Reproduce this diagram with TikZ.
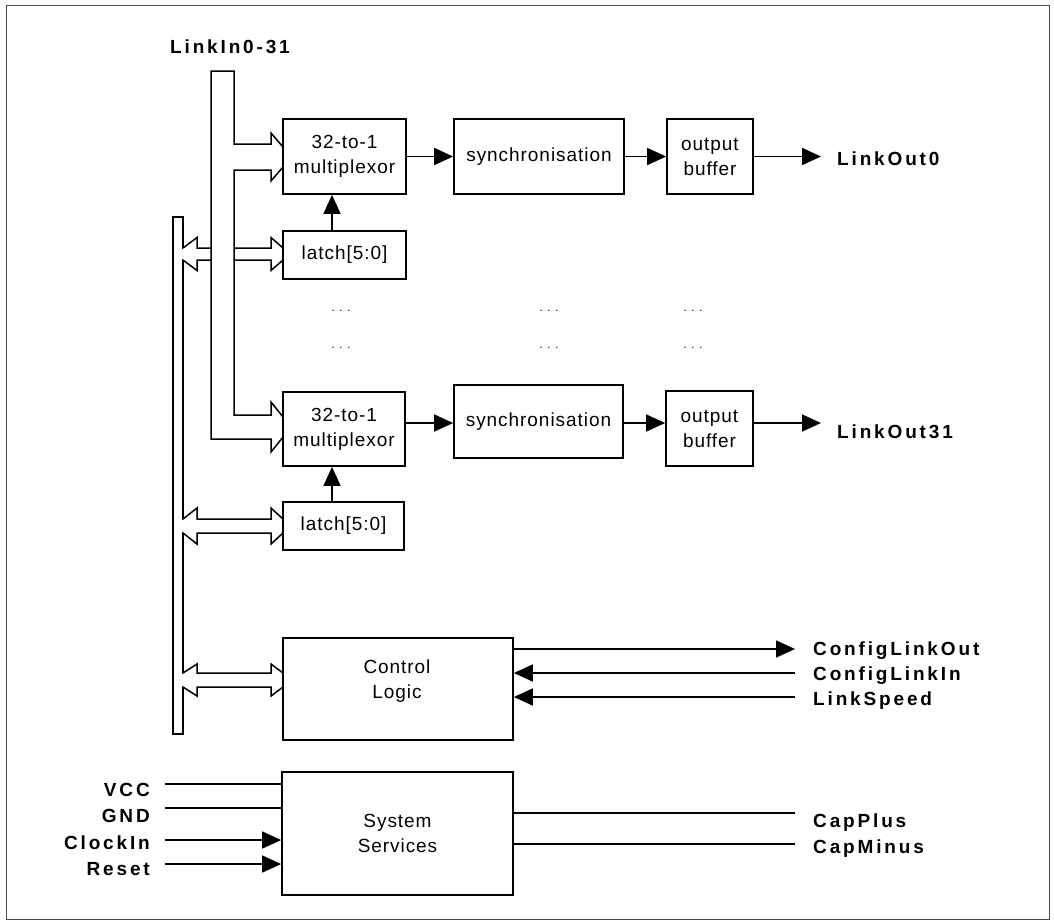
\documentclass[tikz,border=0pt]{standalone}
\usepackage{fontspec}
\setmainfont{Liberation Sans}[LetterSpace=5]
\newfontfamily\blab{Liberation Sans}[LetterSpace=15]
\usetikzlibrary{arrows.meta,calc}
\newcommand\hollowbi[4]{% center y, shaft half, head half, front half
  \draw[bus, fill=white] (183,{#1-#4}) -- (197,{#1-#3}) -- (197,{#1-#2}) -- (271,{#1-#2}) -- (271,{#1-#3}) -- (283,{#1-#4})
    -- (283,{#1+#4}) -- (271,{#1+#3}) -- (271,{#1+#2}) -- (197,{#1+#2}) -- (197,{#1+#3}) -- (183,{#1+#4});
  \draw[bus, white, line width=2pt] (283,{#1-#4+1}) -- (283,{#1+#4-1});
  \draw[bus, white, line width=2pt] (183,{#1-#4+1}) -- (183,{#1+#4-1});
}
\begin{document}
\begin{tikzpicture}[x=1pt,y=-1pt,
 box/.style={draw, line width=1.7pt, align=center, inner sep=0pt, font=\fontsize{19}{25}\selectfont},
 txt/.style={align=center, inner sep=0pt, font=\fontsize{19}{25}\selectfont},
 lab/.style={inner sep=0pt, font=\blab\bfseries\fontsize{19}{22}\selectfont},
 wire/.style={line width=1.6pt},
 arr/.style={wire, -{Triangle[length=19pt,width=17pt]}},
 bus/.style={line width=1.5pt, line join=miter},
 dots/.style={inner sep=0pt, font=\fontsize{11}{11}\selectfont}]
\useasboundingbox (0,0) rectangle (1054,922);
\draw[line width=1pt, black!70] (6,5) rectangle (1049,919);

% data bus
\draw[bus, fill=white] (173,217) rectangle (183,734);
% double hollow arrows
\hollowbi{254}{6}{16.5}{6}
\hollowbi{526}{7}{18}{7}
\hollowbi{680}{7}{16}{7}

% LinkIn bus
\fill[white] (211.5,71.5) rectangle (233.5,438.5);
\draw[bus] (283,437) -- (271,452) -- (271,439) -- (211,439) -- (211,71) -- (234,71) -- (234,144) -- (271,144) -- (271,133) -- (283,147);
\draw[bus] (283,167) -- (271,181) -- (271,170) -- (234,170) -- (234,415) -- (271,415) -- (271,402) -- (283,417);
\fill[white] (282.4,147.5) rectangle (283.6,166.5);
\fill[white] (282.4,417.5) rectangle (283.6,436.5);

% boxes
\node[box, minimum width=123, minimum height=75] (mux1) at (344.5,156.5) {32-to-1\\multiplexor};
\node[box, minimum width=170, minimum height=75] (sync1) at (539,156.5) {synchronisation};
\node[box, minimum width=86, minimum height=75] (buf1) at (710,156.5) {output\\buffer};
\node[box, minimum width=123, minimum height=48] (latch1) at (344.5,255) {latch[5:0]};

\node[box, minimum width=122, minimum height=74] (mux2) at (344,429) {32-to-1\\multiplexor};
\node[box, minimum width=169, minimum height=73] (sync2) at (538.5,421.5) {synchronisation};
\node[box, minimum width=87, minimum height=75] (buf2) at (709.5,428.5) {output\\buffer};
\node[box, minimum width=121, minimum height=48] (latch2) at (343.5,526) {latch[5:0]};

\node[box, minimum width=230, minimum height=102] (ctrl) at (398,689) {};
\node[txt] (ctrltxt) at (397,681) {Control\\Logic};
\node[box, minimum width=231, minimum height=123] (sys) at (397.5,833.5) {System\\Services};

% dots
\node[dots] (d1) at (341,311) {. . .};
\node[dots] (d2) at (549,311) {. . .};
\node[dots] (d3) at (693,311) {. . .};
\node[dots] (d4) at (341,348) {. . .};
\node[dots] (d5) at (549,348) {. . .};
\node[dots] (d6) at (693,348) {. . .};

% labels
\node[lab, anchor=base west] (linkin) at (170,53) {LinkIn0-31};
\node[lab, anchor=base west] (lo0) at (837,165) {LinkOut0};
\node[lab, anchor=base west] (lo31) at (837,438) {LinkOut31};
\node[lab, anchor=base west] (clo) at (813,655) {ConfigLinkOut};
\node[lab, anchor=base west] (cli) at (813,680) {ConfigLinkIn};
\node[lab, anchor=base west] (ls) at (813,705) {LinkSpeed};
\node[lab, anchor=base west] (cp) at (813,827) {CapPlus};
\node[lab, anchor=base west] (cm) at (813,853) {CapMinus};
\node[lab, anchor=base east] (vcc) at (150,796) {VCC};
\node[lab, anchor=base east] (gnd) at (150,822) {GND};
\node[lab, anchor=base east] (clk) at (150,849) {ClockIn};
\node[lab, anchor=base east] (rst) at (150,875) {Reset};

% wire endpoints
\coordinate (lo0tip) at (821,156.5);
\coordinate (lo31tip) at (821,423);
\coordinate (row2) at (0,423);
\coordinate (cloE) at (795,649);
\coordinate (cliE) at (795,673);
\coordinate (lsE) at (795,697);
\coordinate (cpE) at (795,813);
\coordinate (cmE) at (795,844);
\coordinate (vccW) at (165,784);
\coordinate (gndW) at (165,808);
\coordinate (clkW) at (165,840);
\coordinate (rstW) at (165,864);

% row 1
\draw[arr] (mux1.east) -- (sync1.west);
\draw[arr] (sync1.east) -- (buf1.west);
\draw[arr] (buf1.east) -- (lo0tip);
\draw[arr] ([xshift=-12.5pt]latch1.north) -- ([xshift=-12.5pt]latch1.north |- mux1.south);
% row 2
\draw[arr] (mux2.east |- row2) -- (sync2.west |- row2);
\draw[arr] (sync2.east |- row2) -- (buf2.west |- row2);
\draw[arr] (buf2.east |- row2) -- (lo31tip);
\draw[arr] ([xshift=-11.5pt]latch2.north) -- ([xshift=-11.5pt]latch2.north |- mux2.south);
% control logic
\draw[arr] (cloE -| ctrl.east) -- (cloE);
\draw[arr] (cliE) -- (cliE -| ctrl.east);
\draw[arr] (lsE) -- (lsE -| ctrl.east);
% system services
\draw[wire] (cpE -| sys.east) -- (cpE);
\draw[wire] (cmE -| sys.east) -- (cmE);
\draw[wire] (vccW) -- (vccW -| sys.west);
\draw[wire] (gndW) -- (gndW -| sys.west);
\draw[arr] (clkW) -- (clkW -| sys.west);
\draw[arr] (rstW) -- (rstW -| sys.west);
\end{tikzpicture}
\end{document}
